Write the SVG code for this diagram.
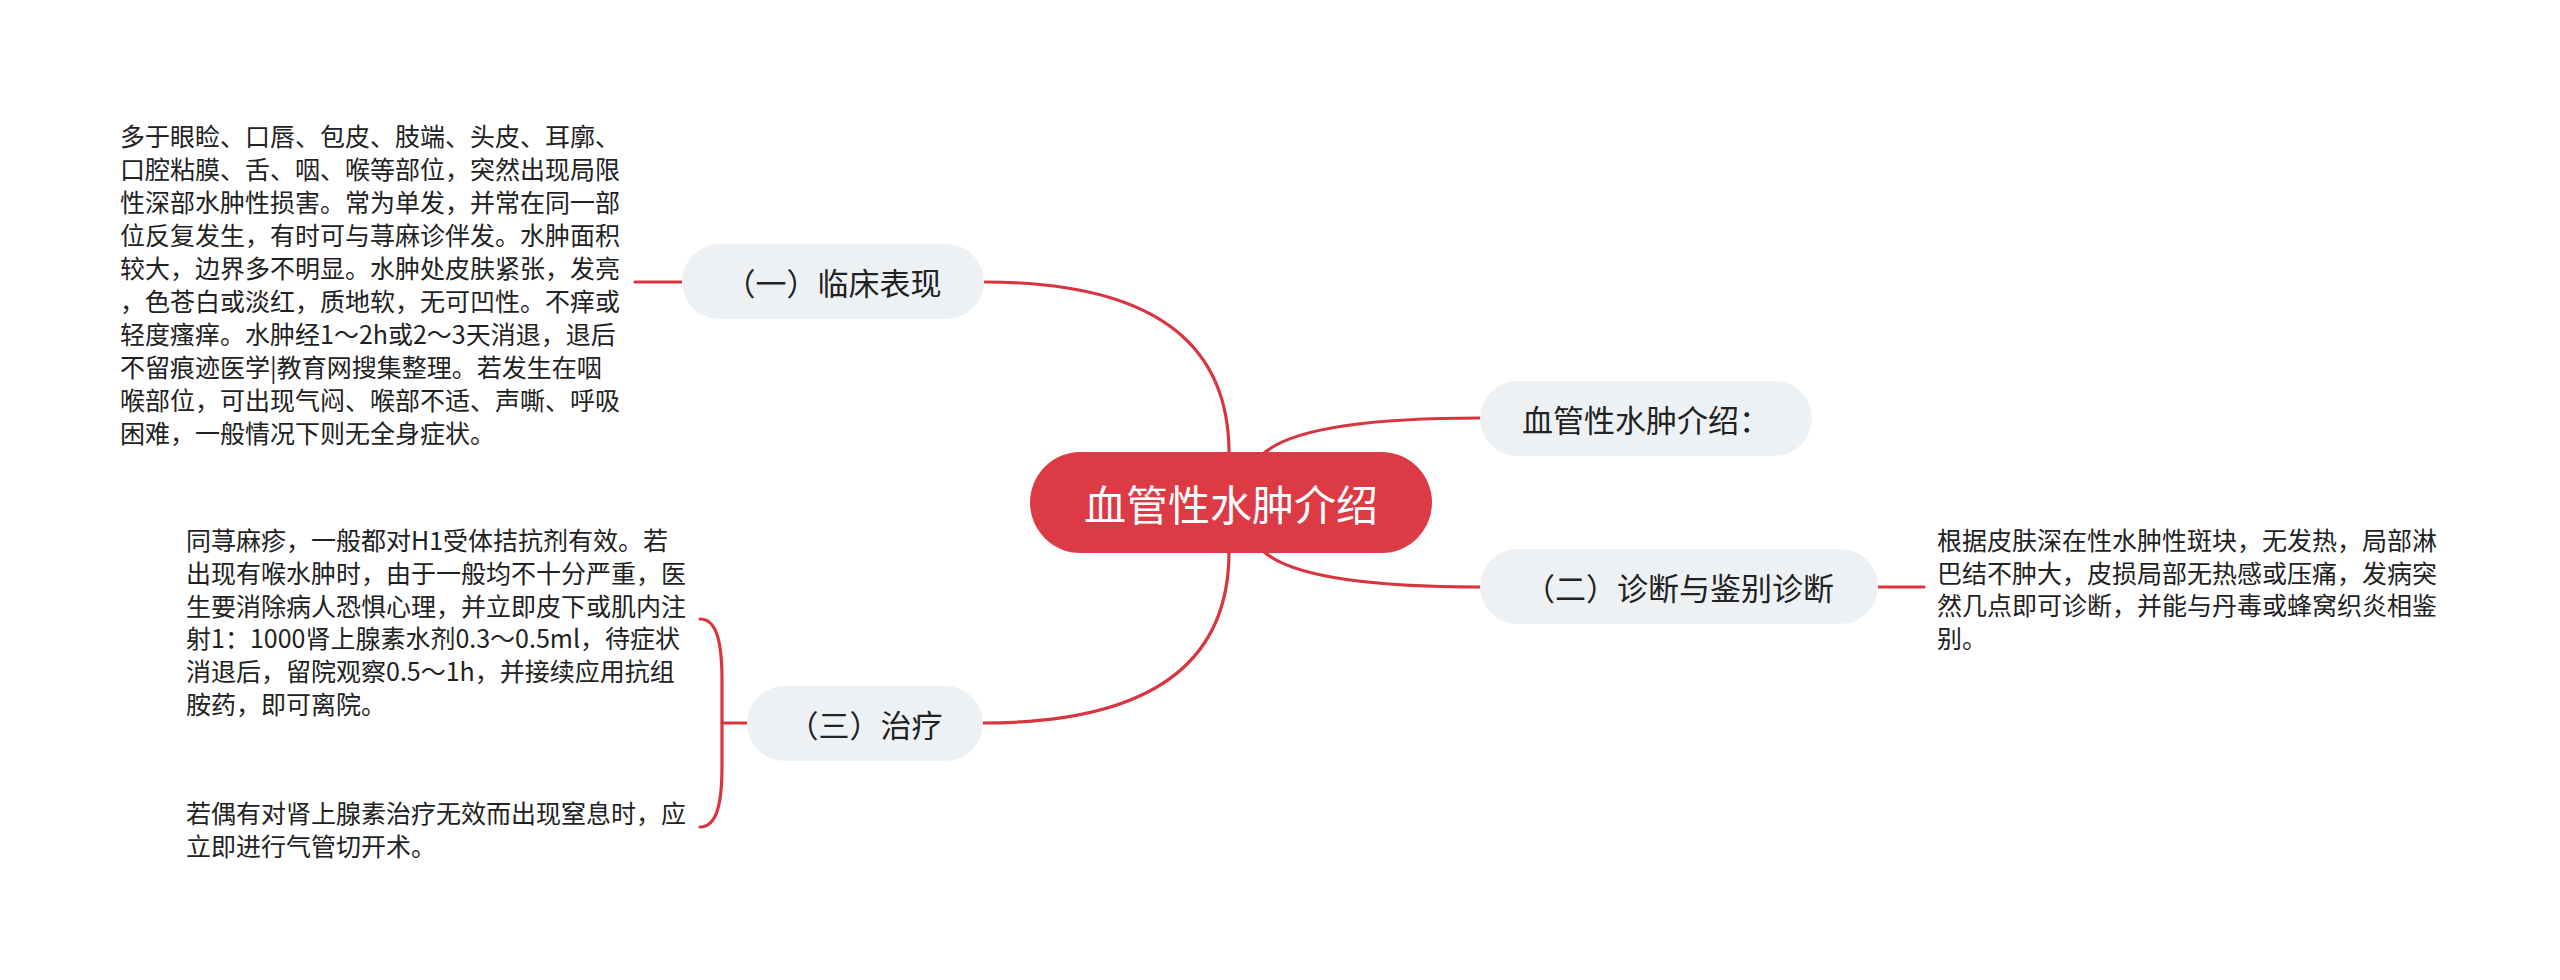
<svg xmlns="http://www.w3.org/2000/svg" width="2560" height="980" viewBox="0 0 2560 980">
<style>
.bg{fill:#ffffff}
.conn{fill:none;stroke:#d8353f;stroke-width:3.2;stroke-linecap:round}
.pill{fill:#eef1f4}
.root{fill:#dc3b45}
.lbl{font-family:"Noto Sans CJK SC","Noto Sans",sans-serif;font-size:31px;fill:#222;text-anchor:middle;dominant-baseline:central}
.rootlbl{font-family:"Noto Sans CJK SC","Noto Sans",sans-serif;font-size:42px;fill:#ffffff;text-anchor:middle;dominant-baseline:central}
.note{font-family:"Noto Sans CJK SC","Noto Sans",sans-serif;font-size:25px;fill:#222;dominant-baseline:central}
</style>
<rect class="bg" x="0" y="0" width="2560" height="980"/>
<g id="connectors">
<path class="conn" d="M1229,453 Q1229,282 985,282"/>
<path class="conn" d="M1262,455 Q1300,418 1480,418"/>
<path class="conn" d="M1262,550 Q1300,587 1480,587"/>
<path class="conn" d="M1229,552 Q1229,723 983,723"/>
<path class="conn" d="M635,282 L682,282"/>
<path class="conn" d="M1878,587 L1924,587"/>
<path class="conn" d="M700,619 C716,619 722,640 722,680 L722,766 C722,806 716,827 700,827"/>
<path class="conn" d="M722,723 L747,723"/>
</g>
<g id="root">
<rect class="root" x="1030" y="452" width="402" height="101" rx="50.5"/>
<text class="rootlbl" x="1231" y="502.5">血管性水肿介绍</text>
</g>
<g id="node-clinical">
<rect class="pill" x="682" y="244" width="302" height="75" rx="37.5"/>
<text class="lbl" x="833" y="281.5">（一）临床表现</text>
</g>
<g id="node-intro">
<rect class="pill" x="1480" y="381" width="332" height="75" rx="37.5"/>
<text class="lbl" x="1646" y="418.5">血管性水肿介绍：</text>
</g>
<g id="node-diagnosis">
<rect class="pill" x="1480" y="549" width="398" height="75" rx="37.5"/>
<text class="lbl" x="1679" y="586.5">（二）诊断与鉴别诊断</text>
</g>
<g id="node-treatment">
<rect class="pill" x="747" y="686" width="236" height="75" rx="37.5"/>
<text class="lbl" x="865" y="723.5">（三）治疗</text>
</g>
<g id="note-clinical">
<text class="note" x="120" y="135">多于眼睑、口唇、包皮、肢端、头皮、耳廓、</text>
<text class="note" x="120" y="168">口腔粘膜、舌、咽、喉等部位，突然出现局限</text>
<text class="note" x="120" y="201">性深部水肿性损害。常为单发，并常在同一部</text>
<text class="note" x="120" y="234">位反复发生，有时可与荨麻诊伴发。水肿面积</text>
<text class="note" x="120" y="267">较大，边界多不明显。水肿处皮肤紧张，发亮</text>
<text class="note" x="120" y="300">，色苍白或淡红，质地软，无可凹性。不痒或</text>
<text class="note" x="120" y="333">轻度瘙痒。水肿经1～2h或2～3天消退，退后</text>
<text class="note" x="120" y="366">不留痕迹医学|教育网搜集整理。若发生在咽</text>
<text class="note" x="120" y="399">喉部位，可出现气闷、喉部不适、声嘶、呼吸</text>
<text class="note" x="120" y="432">困难，一般情况下则无全身症状。</text>
</g>
<g id="note-diagnosis">
<text class="note" x="1937" y="539">根据皮肤深在性水肿性斑块，无发热，局部淋</text>
<text class="note" x="1937" y="571.5">巴结不肿大，皮损局部无热感或压痛，发病突</text>
<text class="note" x="1937" y="604">然几点即可诊断，并能与丹毒或蜂窝织炎相鉴</text>
<text class="note" x="1937" y="636.5">别。</text>
</g>
<g id="note-treatment-1">
<text class="note" x="186" y="539">同荨麻疹，一般都对H1受体拮抗剂有效。若</text>
<text class="note" x="186" y="572">出现有喉水肿时，由于一般均不十分严重，医</text>
<text class="note" x="186" y="605">生要消除病人恐惧心理，并立即皮下或肌内注</text>
<text class="note" x="186" y="637">射1：1000肾上腺素水剂0.3～0.5ml，待症状</text>
<text class="note" x="186" y="670">消退后，留院观察0.5～1h，并接续应用抗组</text>
<text class="note" x="186" y="703">胺药，即可离院。</text>
</g>
<g id="note-treatment-2">
<text class="note" x="186" y="812">若偶有对肾上腺素治疗无效而出现窒息时，应</text>
<text class="note" x="186" y="845">立即进行气管切开术。</text>
</g>
</svg>
